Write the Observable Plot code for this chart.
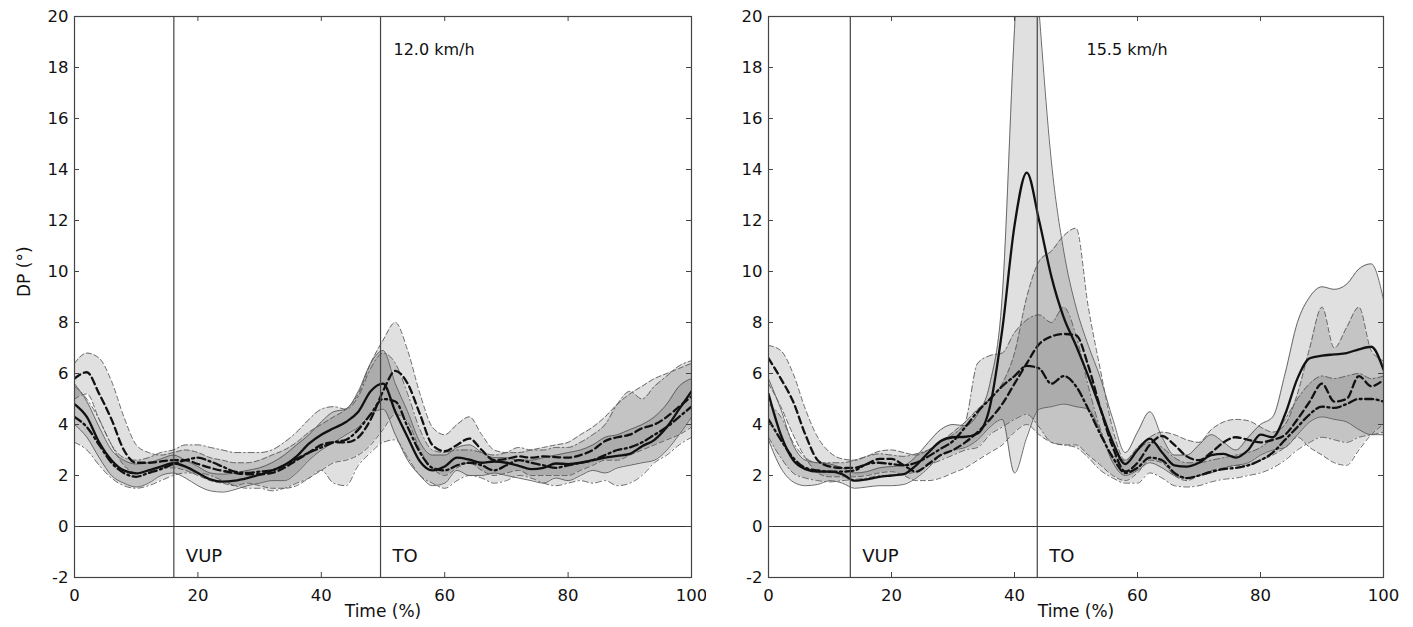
<!DOCTYPE html>
<html>
<head>
<meta charset="utf-8">
<script src="https://cdn.jsdelivr.net/npm/d3@7"></script>
<script src="https://cdn.jsdelivr.net/npm/@observablehq/plot@0.6"></script>
<style>
  body { margin: 0; background: #fff; }
  #wrap { position: relative; width: 1413px; height: 627px; overflow: hidden; }
  .panel { position: absolute; top: 0; }
</style>
</head>
<body>
<div id="wrap">
  <div id="p1" class="panel" style="left:0px"></div>
  <div id="p2" class="panel" style="left:706px"></div>
</div>
<script>
// ---------- data ----------
const time = [0,2,4,6,8,10,12,14,16,18,20,22,24,26,28,30,32,34,36,38,40,42,44,46,48,50,52,54,56,58,60,62,64,66,68,70,72,74,76,78,80,82,84,86,88,90,92,94,96,98,100];
const xTicks = [0,20,40,60,80,100];
const yTicks = [-2,0,2,4,6,8,10,12,14,16,18,20];
const speeds = ["12.0 km/h", "15.5 km/h"];
const eventNames = ["VUP", "TO"];
const eventsA = [16.1, 49.6];
const eventsB = [13.3, 43.7];

// 12.0 km/h panel
const solidMeanA = [4.8,4.3,3.3,2.6,2.2,2.08,2.2,2.35,2.48,2.35,2.1,1.85,1.76,1.8,1.9,2.03,2.2,2.4,2.75,3.25,3.6,3.85,4.1,4.5,5.3,5.6,4.5,3.5,2.55,2.2,2.35,2.7,2.62,2.5,2.55,2.5,2.38,2.25,2.3,2.47,2.45,2.5,2.6,2.7,2.77,2.85,3.15,3.4,3.9,4.6,5.3];
const solidHiA   = [5.6,4.9,3.9,3.0,2.6,2.45,2.5,2.65,2.8,2.6,2.35,2.1,2.05,2.1,2.2,2.3,2.5,2.8,3.2,3.6,4.1,4.5,4.6,5.3,6.4,6.9,5.6,4.5,3.3,2.8,2.8,3.1,3.2,2.9,2.7,2.7,2.6,2.6,2.7,2.8,2.9,3.0,3.2,3.5,3.6,3.8,4.0,4.3,4.8,5.5,5.8];
const solidLoA   = [4.0,3.5,2.7,2.0,1.7,1.55,1.7,2.0,2.1,1.9,1.6,1.4,1.35,1.45,1.6,1.7,1.8,1.8,2.1,2.6,3.0,3.3,3.6,3.9,4.4,4.6,3.6,2.6,2.0,1.6,1.7,2.2,2.0,2.0,2.1,2.0,1.9,1.8,1.7,1.9,1.8,2.0,2.2,2.1,2.3,2.4,2.5,2.6,3.0,3.6,4.3];
const dashMeanA  = [5.8,6.05,5.2,4.2,3.0,2.5,2.5,2.55,2.6,2.6,2.45,2.3,2.18,2.1,2.05,2.05,2.1,2.3,2.6,2.9,3.2,3.3,3.3,3.5,4.2,5.3,6.1,5.6,4.4,3.2,2.95,3.2,3.45,3.0,2.6,2.65,2.75,2.7,2.75,2.72,2.7,2.8,3.0,3.35,3.5,3.6,3.85,4.0,4.3,4.7,5.1];
const dashHiA    = [6.4,6.8,6.6,5.7,4.3,3.2,2.9,2.8,2.9,3.0,2.9,2.7,2.6,2.5,2.5,2.6,2.8,3.0,3.3,3.7,4.0,4.3,4.6,5.2,6.4,7.3,8.0,6.9,5.2,3.9,3.6,4.0,4.3,3.6,3.0,2.9,2.9,3.0,3.1,3.2,3.3,3.6,3.9,4.3,4.8,5.2,5.5,5.8,6.0,6.2,6.4];
const dashLoA    = [5.0,5.2,4.2,3.2,2.4,2.1,2.2,2.3,2.3,2.2,2.0,1.8,1.7,1.6,1.7,1.6,1.5,1.5,1.6,1.9,2.2,2.5,2.6,2.8,3.2,3.8,4.4,4.1,3.0,2.3,2.0,2.3,2.5,2.2,2.0,2.1,2.2,2.0,2.0,2.0,2.0,2.2,2.4,2.6,2.6,2.8,3.0,3.2,3.4,3.6,3.9];
const dotMeanA   = [4.3,3.9,3.2,2.5,2.1,1.95,2.1,2.25,2.45,2.6,2.7,2.55,2.35,2.15,2.1,2.15,2.2,2.4,2.65,2.9,3.1,3.3,3.4,3.8,4.4,5.0,4.9,3.9,2.9,2.3,2.2,2.4,2.5,2.4,2.2,2.4,2.6,2.5,2.4,2.3,2.4,2.5,2.6,2.8,3.0,3.1,3.3,3.6,3.9,4.3,4.7];
const dotHiA     = [5.5,5.0,4.2,3.2,2.7,2.6,2.7,2.9,3.0,3.2,3.2,3.1,3.0,2.9,2.9,2.9,3.0,3.3,3.7,4.2,4.6,4.7,4.6,5.1,6.2,6.8,6.4,5.2,3.8,3.0,2.9,3.0,3.0,2.9,2.8,2.9,3.1,3.0,3.0,3.1,3.1,3.3,3.6,4.0,4.8,5.3,5.0,5.5,5.9,6.3,6.5];
const dotLoA     = [3.3,3.0,2.4,1.9,1.6,1.5,1.6,1.8,2.0,2.1,2.1,2.0,1.8,1.6,1.5,1.5,1.4,1.5,1.7,1.9,2.2,1.7,1.6,2.4,2.9,3.3,3.4,2.7,2.0,1.7,1.5,1.8,2.0,1.9,1.7,1.8,2.0,1.9,1.7,1.6,1.7,1.8,1.7,1.8,1.6,1.7,2.0,2.5,2.8,3.2,3.5];

// 15.5 km/h panel
const solidMeanB = [5.2,3.6,2.6,2.25,2.15,2.15,2.05,1.8,1.85,1.95,2.0,2.05,2.4,2.9,3.35,3.5,3.52,3.65,4.7,7.7,11.8,13.88,12.0,9.8,8.2,7.1,5.9,4.6,3.3,2.45,3.0,3.45,2.9,2.4,2.35,2.5,2.8,2.85,2.7,3.0,3.6,3.5,4.4,5.8,6.6,6.7,6.75,6.8,6.95,7.05,6.15];
const solidHiB   = [5.8,4.6,3.2,2.6,2.5,2.45,2.3,2.1,2.15,2.3,2.35,2.4,2.75,3.3,3.8,4.0,3.95,4.4,5.6,9.0,19.5,27,20.2,14.3,10.8,8.6,7.1,5.8,4.2,2.9,3.7,4.5,3.5,2.8,2.8,3.2,3.6,3.3,3.0,3.5,4.0,4.3,6.0,8.0,9.0,9.4,9.3,9.5,10.1,10.3,8.9];
const solidLoB   = [3.4,2.3,1.75,1.6,1.65,1.8,1.7,1.5,1.55,1.6,1.6,1.65,1.9,2.3,2.8,3.0,3.1,3.4,3.9,4.2,2.1,3.5,4.6,4.7,4.8,4.7,4.6,3.7,2.5,2.0,2.2,2.5,2.3,2.0,1.9,2.0,2.1,2.3,2.4,2.5,2.8,3.0,3.1,3.6,4.1,4.3,4.2,4.1,3.8,3.6,3.6];
const dashMeanB  = [6.6,5.8,4.9,3.6,2.6,2.35,2.3,2.3,2.45,2.65,2.65,2.4,2.15,2.45,2.8,3.0,3.3,3.7,4.2,4.8,5.6,6.4,7.15,7.45,7.55,7.5,6.3,4.6,3.1,2.16,2.5,3.2,3.55,3.2,2.75,2.6,2.9,3.3,3.5,3.4,3.3,3.4,3.6,4.2,4.9,5.6,4.9,5.0,5.9,5.5,5.75];
const dashHiB    = [7.1,6.9,6.0,4.6,3.5,2.9,2.65,2.6,2.75,2.95,3.0,2.9,2.8,3.0,3.3,3.7,4.1,4.6,5.0,5.6,6.8,9.0,10.4,10.8,11.4,11.7,8.6,6.1,3.8,2.6,3.1,3.5,3.7,3.6,3.4,3.3,3.8,4.1,4.2,4.15,3.9,3.7,4.0,5.2,7.0,8.6,7.0,7.8,8.6,6.9,6.5];
const dashLoB    = [5.6,4.7,3.6,2.7,2.1,1.95,1.95,1.95,2.0,2.1,2.15,2.0,1.8,1.8,1.9,2.1,2.3,2.6,2.9,3.2,3.7,4.0,3.6,3.3,3.2,3.2,2.8,2.4,2.0,1.8,2.1,2.6,2.5,2.0,1.8,2.0,2.2,2.3,2.4,2.4,2.6,2.8,3.1,3.5,3.1,2.8,2.5,2.4,3.0,3.6,4.0];
const dotMeanB   = [4.2,3.4,2.7,2.3,2.2,2.15,2.15,2.2,2.45,2.5,2.45,2.4,2.5,2.75,3.05,3.35,3.9,4.5,5.0,5.5,5.9,6.3,6.2,5.6,5.9,5.5,4.6,3.6,2.7,2.1,2.3,2.7,2.6,2.1,1.9,2.0,2.15,2.25,2.3,2.4,2.6,2.9,3.4,3.9,4.4,4.7,4.65,4.8,5.0,5.0,4.9];
const dotHiB     = [4.8,4.3,3.3,2.7,2.5,2.5,2.5,2.6,2.75,2.85,2.8,2.75,2.85,3.0,3.3,3.6,4.1,6.4,6.7,6.8,7.6,8.1,8.3,8.0,8.6,7.5,5.5,3.8,2.8,2.6,3.0,3.3,3.1,2.7,2.5,2.5,2.6,2.7,2.8,2.9,3.1,3.5,4.2,5.0,5.6,5.9,5.8,5.9,6.0,5.8,5.9];
const dotLoB     = [3.5,2.7,2.1,1.9,1.8,1.75,1.8,1.85,1.9,2.0,2.0,2.05,2.15,2.4,2.6,2.8,3.0,3.1,3.6,3.9,4.2,4.4,3.9,3.3,3.2,3.1,2.7,2.2,1.9,1.7,1.7,2.1,1.9,1.6,1.55,1.6,1.75,1.85,1.9,2.0,2.1,2.3,2.6,3.0,3.3,3.5,3.4,3.3,3.5,3.6,3.7];

// ---------- drawing ----------
const FONT = "DejaVu Sans, Liberation Sans, Arial, sans-serif";
const HEIGHT = 627, MT = 16, MB = 50;
const styles = [
  {thin: null,        thick: null},
  {thin: "5,3",       thick: "7,4"},
  {thin: "6,3,1.5,3", thick: "8,3.5,2,3.5"}
];

function makePanel(cfg) {
  const {series, events, speed, width, marginLeft, marginRight, yLabel} = cfg;
  const W = width - marginLeft - marginRight;
  const H = HEIGHT - MT - MB;
  const rows = series.map(s => time.map((t, i) => ({t, m: s.mean[i], lo: s.lo[i], hi: s.hi[i]})));
  const curve = "monotone-x";
  const marks = [];
  rows.forEach(r => marks.push(Plot.areaY(r, {x: "t", y1: "lo", y2: "hi", fill: "#000", fillOpacity: 0.12, curve, clip: true})));
  rows.forEach((r, k) => {
    marks.push(Plot.lineY(r, {x: "t", y: "hi", stroke: "#5a5a5a", strokeWidth: 0.9, strokeDasharray: styles[k].thin, curve, clip: true}));
    marks.push(Plot.lineY(r, {x: "t", y: "lo", stroke: "#5a5a5a", strokeWidth: 0.9, strokeDasharray: styles[k].thin, curve, clip: true}));
  });
  rows.forEach((r, k) => {
    marks.push(Plot.lineY(r, {x: "t", y: "m", stroke: "#111", strokeWidth: 2.3, strokeDasharray: styles[k].thick, curve, clip: true}));
  });
  marks.push(Plot.ruleY([0], {stroke: "#333", strokeWidth: 1.1}));
  marks.push(Plot.ruleX(events, {stroke: "#444", strokeWidth: 1.2}));
  marks.push(Plot.text(events.map((e, i) => ({x: e, name: eventNames[i]})), {x: "x", y: () => -1.15, text: "name", textAnchor: "start", dx: 12, fontSize: 18, fill: "#111"}));
  marks.push(Plot.text([speed], {x: () => 51.7, y: () => 18.7, text: d => d, textAnchor: "start", fontSize: 16, fill: "#111"}));
  marks.push(Plot.frame({stroke: "#444", strokeWidth: 1.2}));
  // inward ticks on all four sides
  marks.push(Plot.tickY(yTicks, {y: d => d, insetRight: W - 5, stroke: "#444"}));
  marks.push(Plot.tickY(yTicks, {y: d => d, insetLeft: W - 5, stroke: "#444"}));
  marks.push(Plot.tickX(xTicks, {x: d => d, insetTop: H - 5, stroke: "#444"}));
  marks.push(Plot.tickX(xTicks, {x: d => d, insetBottom: H - 5, stroke: "#444"}));
  marks.push(Plot.text(["Time (%)"], {frameAnchor: "bottom", dy: 39, text: d => d, fontSize: 17, fill: "#111"}));
  if (yLabel) marks.push(Plot.text([yLabel], {frameAnchor: "left", dx: -50, rotate: -90, text: d => d, fontSize: 17, fill: "#111"}));
  return Plot.plot({
    width, height: HEIGHT,
    marginLeft, marginRight, marginTop: MT, marginBottom: MB,
    style: {fontFamily: FONT, fontSize: "16.5px", color: "#111", background: "white"},
    x: {domain: [0, 100], ticks: xTicks, tickSize: 0, tickPadding: 12, label: null, tickFormat: d => String(d)},
    y: {domain: [-2, 20], ticks: yTicks, tickSize: 0, tickPadding: 6, label: null, tickFormat: d => String(d)},
    marks
  });
}

document.getElementById("p1").appendChild(makePanel({
  series: [
    {mean: solidMeanA, lo: solidLoA, hi: solidHiA},
    {mean: dashMeanA, lo: dashLoA, hi: dashHiA},
    {mean: dotMeanA, lo: dotLoA, hi: dotHiA}
  ],
  events: eventsA, speed: speeds[0], width: 706, marginLeft: 74, marginRight: 15, yLabel: "DP (°)"
}));
document.getElementById("p2").appendChild(makePanel({
  series: [
    {mean: solidMeanB, lo: solidLoB, hi: solidHiB},
    {mean: dashMeanB, lo: dashLoB, hi: dashHiB},
    {mean: dotMeanB, lo: dotLoB, hi: dotHiB}
  ],
  events: eventsB, speed: speeds[1], width: 707, marginLeft: 62, marginRight: 30, yLabel: null
}));
</script>
</body>
</html>
